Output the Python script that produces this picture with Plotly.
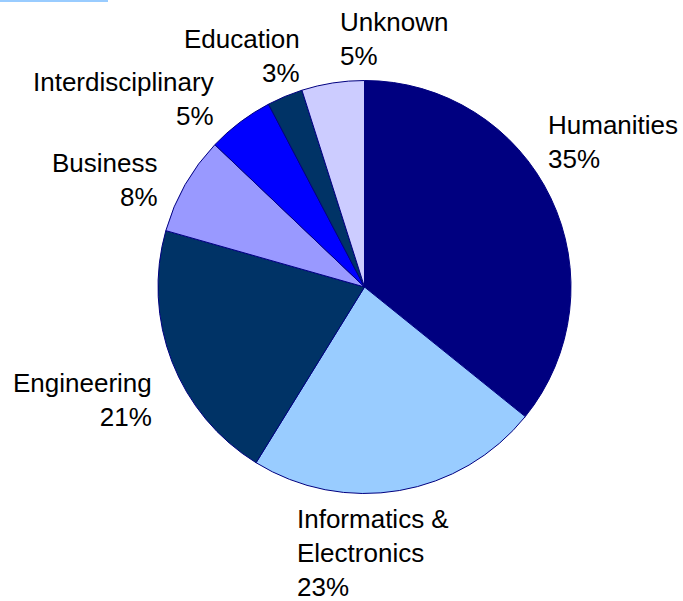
import plotly.graph_objects as go

W, H = 683, 601

categories = ["Humanities", "Informatics &<br>Electronics", "Engineering", "Business",
              "Interdisciplinary", "Education", "Unknown"]
values = [35.8, 23.0, 20.6, 7.7, 5.2, 2.8, 4.9]
pct_labels = ["35%", "23%", "21%", "8%", "5%", "3%", "5%"]
colors = ["#000080", "#99CCFF", "#003366", "#9999FF", "#0000FF", "#003366", "#CCCCFF"]

# label placement (pixel x, pixel y of text block centre, anchor)
label_pos = [
    (546, 142, "left"),
    (295, 553, "left"),
    (154, 400, "right"),
    (160, 180, "right"),
    (216, 99, "right"),
    (302, 56, "right"),
    (338, 39, "left"),
]

fig = go.Figure(go.Pie(
    labels=categories,
    values=values,
    sort=False,
    direction="clockwise",
    rotation=0,
    marker=dict(colors=colors, line=dict(color="#000080", width=1)),
    textinfo="none",
    hoverinfo="label+percent",
    showlegend=False,
    domain=dict(x=[158 / W, 571 / W], y=[1 - 494 / H, 1 - 80 / H]),
))

for cat, pl, (px, py, anc) in zip(categories, pct_labels, label_pos):
    fig.add_annotation(
        x=px / W, y=1 - py / H, xref="paper", yref="paper",
        text=f"{cat}<br>{pl}", showarrow=False,
        xanchor=anc, yanchor="middle", align=anc,
        font=dict(family="Liberation Sans, Arial, sans-serif", size=26, color="#000000"),
    )

fig.add_shape(type="line", xref="paper", yref="paper",
              x0=0, x1=108 / W, y0=1 - 1 / H, y1=1 - 1 / H,
              line=dict(color="#99CCFF", width=2))

fig.update_layout(
    width=W, height=H,
    margin=dict(l=0, r=0, t=0, b=0),
    paper_bgcolor="white", plot_bgcolor="white",
)

fig.write_html("out.html", config={"displayModeBar": False},
               post_script="document.body.style.margin='0';")
